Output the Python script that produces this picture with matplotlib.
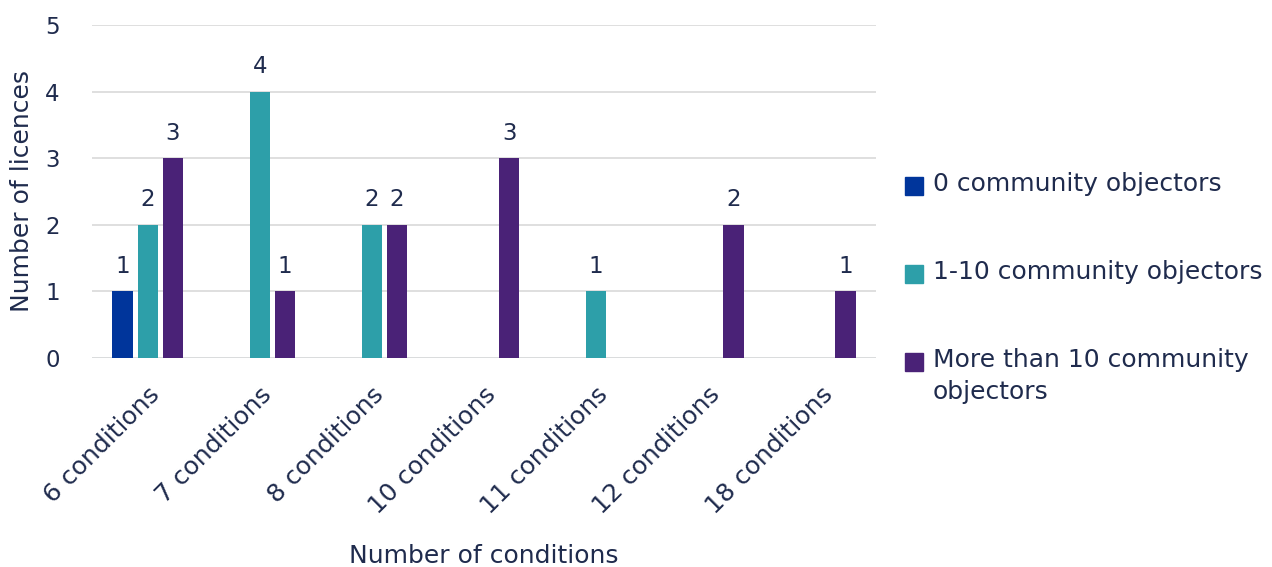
import numpy as np
import matplotlib.pyplot as plt
from matplotlib.patches import Rectangle

plt.rcParams['font.family'] = ['DejaVu Sans']

categories = ["6 conditions", "7 conditions", "8 conditions", "10 conditions",
              "11 conditions", "12 conditions", "18 conditions"]
series_names = ["0 community objectors", "1-10 community objectors",
                "More than 10 community\nobjectors"]
zero_obj = [1, 0, 0, 0, 0, 0, 0]
one_to_ten = [2, 4, 2, 0, 1, 0, 0]
more_than_ten = [3, 1, 2, 3, 0, 2, 1]

colors = ["#00359B", "#2D9FA9", "#4A2277"]
text_col = "#1F2B4D"

fig = plt.figure(figsize=(12.72, 5.67), dpi=100)
ax = fig.add_axes([0.072, 0.369, 0.617, 0.587])

x = np.arange(len(categories))
width = 0.18
step = 0.225
for k, vals in enumerate([zero_obj, one_to_ten, more_than_ten]):
    pos = x + (k - 1) * step
    for xi, v in zip(pos, vals):
        if v == 0:
            continue
        ax.bar(xi, v, width=width, color=colors[k], zorder=3)
        ax.text(xi, v + 0.2, str(v), ha="center", va="bottom",
                fontsize=16.5, color=text_col)

ax.set_ylim(0, 5)
ax.set_xlim(-0.5, len(categories) - 0.5)
ax.set_yticks(range(6))
ax.grid(axis="y", color="#d9d9d9", linewidth=1.2, zorder=0)
for s in ax.spines.values():
    s.set_visible(False)
ax.axhline(0, color="#dbe8f3", linewidth=1.2, zorder=1)
ax.tick_params(length=0, labelsize=16.5, colors=text_col)
ax.tick_params(axis="y", pad=23)
ax.tick_params(axis="x", pad=18)
ax.set_xticks(x)
ax.set_xticklabels(categories, rotation=45, ha="right", rotation_mode="anchor",
                   fontsize=18, color=text_col)
ax.set_xlabel("Number of conditions", fontsize=18, color=text_col, labelpad=18)
ax.set_ylabel("Number of licences", fontsize=18, color=text_col, labelpad=8)

# legend, drawn by hand so the square sits on the first line of each label
leg_y = [186, 274, 362]
for k, name in enumerate(series_names):
    yf = 1 - leg_y[k] / 567
    fig.patches.append(Rectangle((905 / 1272, yf - 9 / 567), 18 / 1272, 18 / 567,
                                 transform=fig.transFigure, color=colors[k]))
    fig.text(933 / 1272, yf + 14 / 567, name, ha="left", va="top",
             fontsize=18, color=text_col, linespacing=1.4)

fig.savefig("out.png", dpi=100)
